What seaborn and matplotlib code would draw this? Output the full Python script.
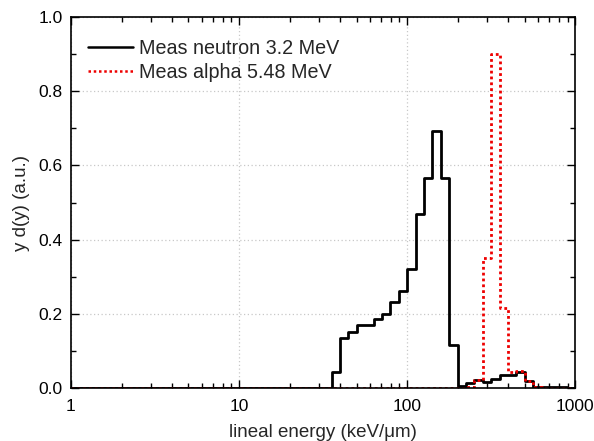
import numpy as np
import pandas as pd
import matplotlib
matplotlib.use("Agg")
import matplotlib.pyplot as plt
from matplotlib.ticker import LogLocator, FixedLocator, NullFormatter, MultipleLocator
import seaborn as sns

# Log-spaced bin edges, 20 bins per decade from 1 to 1000 keV/um
log_edges = [k / 20 for k in range(0, 61)]

# y d(y) per bin for the measured neutron spectrum (bins starting at 10^1.55 .. 10^2.95)
neutron_tail = [0.042, 0.135, 0.152, 0.171, 0.171, 0.187, 0.199, 0.231, 0.262, 0.321,
                0.468, 0.565, 0.692, 0.565, 0.115, 0.006, 0.013, 0.023, 0.016, 0.024,
                0.035, 0.036, 0.042, 0.020, 0.004, 0.003, 0.002, 0.002, 0.001]
neutron_values = [0.0] * 31 + neutron_tail

# y d(y) per bin for the measured alpha spectrum (bins starting at 10^2.35 .. 10^2.95)
alpha_tail = [0.004, 0.022, 0.350, 0.900, 0.216, 0.042, 0.045, 0.020, 0.004, 0.0,
              0.0, 0.0, 0.0]
alpha_values = [0.0] * 47 + alpha_tail

labels = ["Meas neutron 3.2 MeV", "Meas alpha 5.48 MeV"]

edges = [10 ** e for e in log_edges]


def step_frame(values, name):
    # repeat the last value so the final bin is closed by steps-post
    return pd.DataFrame({"x": edges, "y": list(values) + [values[-1]], "series": name})


sns.set_style("ticks")
plt.rcParams["font.family"] = ["Liberation Sans", "DejaVu Sans"]

fig = plt.figure(figsize=(5.94, 4.41), dpi=100)
ax = fig.add_axes([0.1195, 0.120, 0.849, 0.8415])

sns.lineplot(data=step_frame(neutron_values, labels[0]), x="x", y="y",
             drawstyle="steps-post", color="black", linewidth=2.0,
             estimator=None, label=labels[0], ax=ax)
sns.lineplot(data=step_frame(alpha_values, labels[1]), x="x", y="y",
             drawstyle="steps-post", color="#ee0000", linewidth=2.0,
             linestyle=(0, (1, 1.1)), estimator=None, label=labels[1], ax=ax)

ax.set_xscale("log")
ax.set_xlim(1, 1000)
ax.set_ylim(0, 1.0)

ax.xaxis.set_major_locator(FixedLocator([1, 10, 100, 1000]))
ax.set_xticklabels(["1", "10", "100", "1000"])
ax.xaxis.set_minor_locator(LogLocator(base=10, subs=np.arange(2, 10)))
ax.xaxis.set_minor_formatter(NullFormatter())
ax.yaxis.set_major_locator(MultipleLocator(0.2))
ax.yaxis.set_minor_locator(MultipleLocator(0.1))
ax.set_yticks([0.0, 0.2, 0.4, 0.6, 0.8, 1.0])
ax.set_yticklabels(["0.0", "0.2", "0.4", "0.6", "0.8", "1.0"])

ax.tick_params(which="both", direction="in", top=True, right=True,
               labelsize=12.5, width=1.0, colors="black")
ax.tick_params(which="major", length=6, pad=6)
ax.tick_params(axis="x", which="major", pad=8)
ax.tick_params(which="minor", length=3.5)

ax.grid(True, which="major", linestyle=(0, (1, 2)), color="#c8c8c8", linewidth=0.9)
ax.set_axisbelow(True)

for spine in ax.spines.values():
    spine.set_visible(True)
    spine.set_linewidth(1.2)
    spine.set_color("black")

ax.set_xlabel("lineal energy (keV/\u03bcm)", fontsize=13.5, labelpad=7)
ax.set_ylabel("y d(y) (a.u.)", fontsize=13.5, labelpad=6)

leg = ax.legend(loc="upper left", frameon=False, fontsize=14.2, handlelength=2.3,
                handletextpad=0.3, labelspacing=0.25, borderaxespad=0.0,
                borderpad=0.4, bbox_to_anchor=(0.018, 0.962))
for handle in leg.get_lines():
    handle.set_linewidth(1.8)

fig.savefig("out.png", dpi=100)
